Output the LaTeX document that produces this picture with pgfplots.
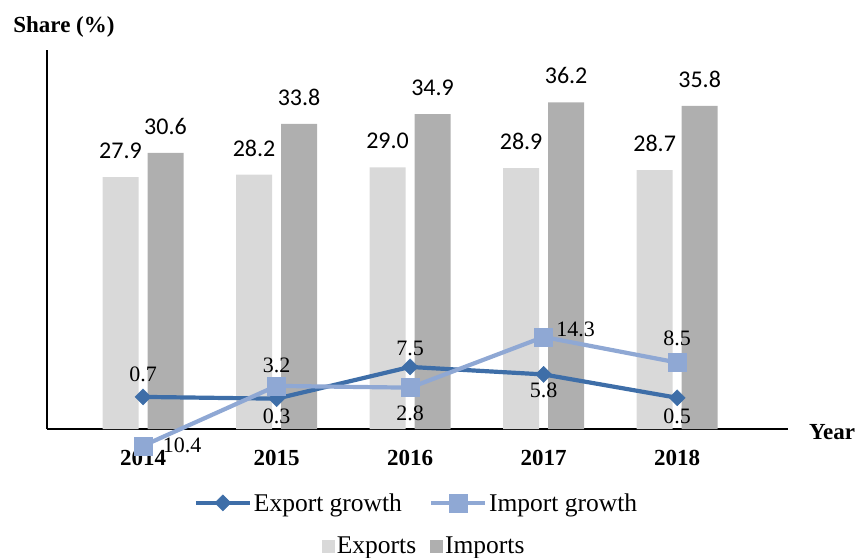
\documentclass[border=0pt]{standalone}
\usepackage{pgfplots}
\pgfplotsset{compat=1.18}
\usepackage{pgfplotstable}
\usepackage{fontspec}
\setmainfont{Liberation Serif}
\newfontfamily\calib{Carlito}
\definecolor{expbar}{HTML}{D9D9D9}
\definecolor{impbar}{HTML}{AFAFAF}
\definecolor{expline}{HTML}{3E6EA8}
\definecolor{impline}{HTML}{8FA8D4}

\pgfplotstableread{
x exports imports
0 27.9 30.6
1 28.2 33.8
2 29.0 34.9
3 28.9 36.2
4 28.7 35.8
}\bars

\pgfplotstableread{
x y lab dx dy
0 0.7 0.7 0 23
1 0.3 0.3 0 -18
2 7.5 7.5 0 18
3 5.8 5.8 0 -16
4 0.5 0.5 0 -19
}\expg

\pgfplotstableread{
x y lab dx dy
0 -10.4 10.4 39 1
1 3.2 3.2 0 21
2 2.8 2.8 0 -26
3 14.3 14.3 32 8
4 8.5 8.5 0 24
}\impg

\pgfplotsset{
  linelabels/.style={
    nodes near coords,
    point meta=explicit symbolic,
    visualization depends on={\thisrow{dx} \as \dx},
    visualization depends on={\thisrow{dy} \as \dy},
    nodes near coords style={anchor=center, inner sep=0pt, xshift=\dx*1bp, yshift=\dy*1bp, font=\rmfamily\fontsize{22bp}{26bp}\selectfont, text=black},
  },
}

\begin{document}
\begin{tikzpicture}
\useasboundingbox (-47bp,-129bp) rectangle (812bp,429bp);
\begin{axis}[
  at={(0,0)}, anchor=south west, scale only axis,
  width=741bp, height=379bp,
  xmin=-0.719, xmax=4.83, ymin=0, ymax=42,
  axis x line*=bottom, axis y line*=left,
  axis line style={line width=1.5bp, -},
  xtick={0,1,2,3,4}, xticklabels={2014,2015,2016,2017,2018},
  major tick length=0pt,
  xticklabel style={font=\fontsize{23bp}{27bp}\selectfont\bfseries, yshift=-18bp},
  ytick=\empty,
  ybar=9bp, bar width=36bp,
  xlabel={Year}, ylabel={Share (\%)},
  every axis x label/.style={at={(axis description cs:1,0)}, anchor=center, xshift=44bp, yshift=-3bp, font=\fontsize{23bp}{27bp}\selectfont\bfseries},
  every axis y label/.style={at={(axis description cs:0,1)}, anchor=center, xshift=17bp, yshift=23bp, font=\fontsize{23bp}{27bp}\selectfont\bfseries},
  nodes near coords,
  every node near coord/.append style={font=\calib\fontsize{24bp}{28bp}\selectfont, inner sep=0pt, yshift=18bp},
  /pgf/number format/.cd, fixed, fixed zerofill, precision=1, assume math mode=true, /pgfplots/.cd,
  clip=false,
  legend style={draw=none, fill=none, font=\fontsize{25.5bp}{29bp}\selectfont, at={(0.509,-0.309)}, anchor=center, inner sep=0pt,
    /tikz/every even column/.append style={column sep=12bp}},
  legend columns=2,
  legend image code/.code={\fill[#1] (0bp,-6.5bp) rectangle (13bp,6.5bp);},
]
\addplot[fill=expbar, draw=none] table[x=x, y=exports]{\bars};
\addplot[fill=impbar, draw=none] table[x=x, y=imports]{\bars};
\legend{Exports, Imports}
\end{axis}

\begin{axis}[
  at={(0,0)}, anchor=south west, scale only axis,
  width=741bp, height=379bp,
  xmin=-0.719, xmax=4.83, ymin=-6.58, ymax=79.4,
  hide axis, clip=false,
  legend style={draw=none, fill=none, font=\fontsize{25.5bp}{29bp}\selectfont, at={(0.4986,-0.195)}, anchor=center, inner sep=0pt,
    /tikz/every even column/.append style={column sep=25bp}},
  legend columns=2,
  legend image code/.code={\draw[mark repeat=2, mark phase=2, #1] plot coordinates {(0bp,0bp) (27bp,0bp) (54bp,0bp)};},
]
\addplot[expline, line width=4.2bp, mark=square*, mark size=5.7bp,
  mark options={rotate=45, draw=expline, fill=expline, line width=0.4bp}, linelabels]
  table[x=x, y=y, meta=lab]{\expg};
\addplot[impline, line width=4.2bp, mark=square*, mark size=9bp,
  mark options={draw=impline, fill=impline, line width=0.4bp}, linelabels]
  table[x=x, y=y, meta=lab]{\impg};
\legend{Export growth, Import growth}
\end{axis}
\end{tikzpicture}
\end{document}
